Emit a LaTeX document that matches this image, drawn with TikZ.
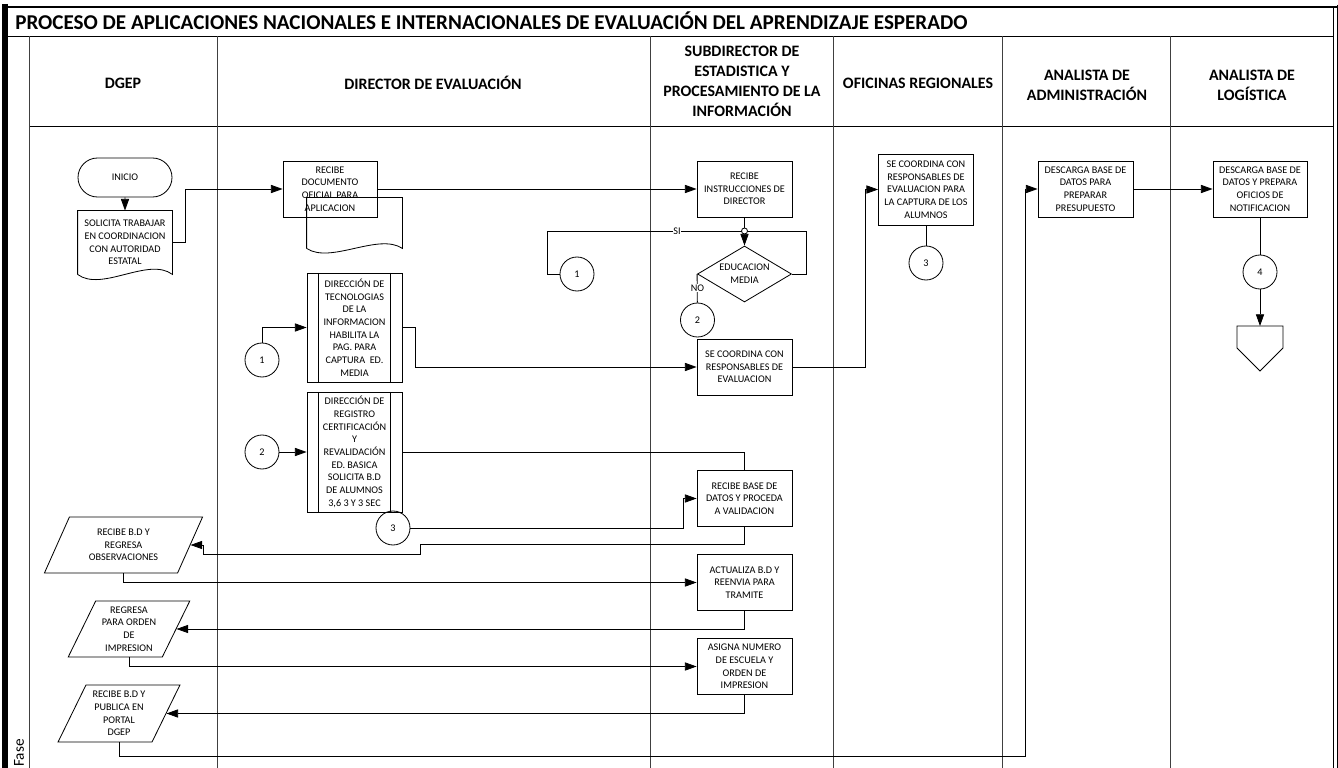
\documentclass[tikz,border=0pt]{standalone}
\usepackage{fontspec}
\setmainfont{Carlito}
\usetikzlibrary{
    arrows.meta,
    shapes.geometric,
    shapes.misc,
    calc
}

\begin{document}
\begin{tikzpicture}[x=0.03cm, y=-0.03cm, line width=0.7pt,
        >={Triangle[length=10pt,width=7pt]},
        txt/.style={font=\fontsize{8.7}{10.8}\selectfont, align=center, inner sep=0pt},
        box/.style={txt, draw, rectangle, minimum width=95*0.03cm, minimum height=56*0.03cm},
        pp/.style={box, path picture={
            \draw ([xshift=11*0.03cm]path picture bounding box.north west) -- ([xshift=11*0.03cm]path picture bounding box.south west)
                  ([xshift=-12*0.03cm]path picture bounding box.north east) -- ([xshift=-12*0.03cm]path picture bounding box.south east);}},
        io/.style={txt, draw, trapezium, trapezium left angle=63.4, trapezium right angle=116.6,
            trapezium stretches=true, minimum height=56*0.03cm},
        dec/.style={txt, draw, diamond, aspect=1.68, minimum width=94*0.03cm, minimum height=56*0.03cm},
        con/.style={txt, draw, circle, minimum size=34*0.03cm},
        term/.style={txt, draw, rounded rectangle, minimum width=94*0.03cm, minimum height=39*0.03cm},
        hdr/.style={font=\bfseries\fontsize{13.6}{17}\selectfont, align=center},
        lane/.style={draw=black!75, line width=0.8pt}]
    \useasboundingbox (0,0) rectangle (1338,768);

    % marco y carriles
    \draw[line width=1.8pt] (3,7) -- (1337,7);
    \draw[line width=5pt] (5,4) -- (5,768);
    \draw[line width=0.8pt] (7,36) -- (1333,36) (29,126) -- (1333,126);
    \draw[line width=0.8pt] (1333,7) -- (1333,768) (1337,5) -- (1337,768);
    \draw[lane]
        (29,36) -- (29,768)
        (217,36) -- (217,768)
        (650,36) -- (650,768)
        (833,36) -- (833,768)
        (1002,36) -- (1002,768)
        (1170,36) -- (1170,768);

    \node[anchor=west, font=\bfseries\fontsize{18}{20}\selectfont] (ttl) at (11,21)
        {PROCESO DE APLICACIONES NACIONALES E INTERNACIONALES DE EVALUACIÓN DEL APRENDIZAJE ESPERADO};
    \node[hdr] (hdgep) at (123,83) {DGEP};
    \node[hdr] (hdir) at (433,83) {DIRECTOR DE EVALUACIÓN};
    \node[hdr] (hsub) at (742,81) {SUBDIRECTOR DE\\ESTADISTICA Y\\PROCESAMIENTO DE LA\\INFORMACIÓN};
    \node[hdr] (hofi) at (918,83) {OFICINAS REGIONALES};
    \node[hdr] (hadm) at (1087,85) {ANALISTA DE\\ADMINISTRACIÓN};
    \node[hdr] (hlog) at (1252,85) {ANALISTA DE\\LOGÍSTICA};
    \node[rotate=90, font=\fontsize{13}{15}\selectfont] (fase) at (19,753) {Fase};

    % DGEP
    \node[term] (ini) at (125,177.5) {INICIO};
    \node[txt, minimum width=94*0.03cm, minimum height=63*0.03cm] (sol) at (125,242.5)
        {SOLICITA TRABAJAR\\EN COORDINACION\\CON AUTORIDAD\\ESTATAL};
    \node[io, minimum width=159*0.03cm] (par1) at (123.5,545) {RECIBE B.D Y\\REGRESA\\OBSERVACIONES};
    \node[io, minimum width=122*0.03cm] (par2) at (129,629) {REGRESA\\PARA ORDEN\\DE\\IMPRESION};
    \node[io, minimum width=122*0.03cm, minimum height=57*0.03cm] (par3) at (119,713.5)
        {RECIBE B.D Y\\PUBLICA EN\\PORTAL\\DGEP};

    % director de evaluacion
    \node[txt, minimum width=95*0.03cm, minimum height=50*0.03cm] (rdb) at (354.5,223) {};
    \node[box, minimum width=94*0.03cm] (rdo) at (330,189) {RECIBE\\DOCUMENTO\\OFICIAL PARA\\APLICACION};
    \node[pp, minimum height=109*0.03cm] (dti) at (354.5,327.5)
        {DIRECCIÓN DE\\TECNOLOGIAS\\DE LA\\INFORMACION\\HABILITA LA\\PAG. PARA\\CAPTURA\ \ ED.\\MEDIA};
    \node[pp, minimum height=120*0.03cm] (drc) at (354.5,452)
        {DIRECCIÓN DE\\REGISTRO\\CERTIFICACIÓN\\Y\\REVALIDACIÓN\\ED. BASICA\\SOLICITA B.D\\DE ALUMNOS\\3,6 3 Y 3 SEC};
    \node[con] (c1b) at (262,360) {1};
    \node[con] (c2b) at (262,452) {2};
    \node[con] (c3b) at (393,528) {3};
    \node[con] (c1a) at (577,274) {1};

    % subdirector
    \node[box] (rin) at (744.5,189) {RECIBE\\INSTRUCCIONES DE\\DIRECTOR};
    \node[dec] (dec) at (744.5,274) {EDUCACION\\MEDIA};
    \node[con] (c2a) at (697.5,320) {2};
    \node[box] (sec) at (744.5,367) {SE COORDINA CON\\RESPONSABLES DE\\EVALUACION};
    \node[box] (rbd) at (744.5,498.5) {RECIBE BASE DE\\DATOS Y PROCEDA\\A VALIDACION};
    \node[box] (act) at (744.5,582.5) {ACTUALIZA B.D Y\\REENVIA PARA\\TRAMITE};
    \node[box] (asg) at (744.5,666.5) {ASIGNA NUMERO\\DE ESCUELA Y\\ORDEN DE\\IMPRESION};

    % oficinas y analistas
    \node[box, minimum height=71*0.03cm] (ofi) at (926,189.5)
        {SE COORDINA CON\\RESPONSABLES DE\\EVALUACION PARA\\LA CAPTURA DE LOS\\ALUMNOS};
    \node[con] (c3a) at (926,263) {3};
    \node[box] (adm) at (1085.5,189) {DESCARGA BASE DE\\DATOS PARA\\PREPARAR\\PRESUPUESTO};
    \node[box, minimum width=94*0.03cm] (log) at (1260,189) {DESCARGA BASE DE\\DATOS Y PREPARA\\OFICIOS DE\\NOTIFICACION};
    \node[con] (c4) at (1260,272) {4};
    \coordinate (off) at (1260,326);
    \coordinate (sik) at (547,231);
    \coordinate (vup) at (1025,756);

    % documentos y conector fuera de pagina
    \draw (sol.south west) -- (sol.north west) -- (sol.north east) -- (sol.south east)
        .. controls +(-24,-18) and +(24,18) .. (sol.south west);
    \draw (rdb.south west) -- (rdb.north west) -- (rdb.north east) -- (rdb.south east)
        .. controls +(-24,-16) and +(24,16) .. (rdb.south west);
    \draw (off) -- ++(23,0) -- ++(0,22) -- ++(-23,23) -- ++(-23,-23) -- ++(0,-22) -- cycle;

    \draw
    (ini) edge[->] (sol)
    (rdo) edge[->] (rin)
    (rin) edge[->] (dec)
    (c2b) edge[->] (drc)
    (adm) edge[->] (log)
    (dec.west) edge (c2a)
    (ofi) edge (c3a)
    (log) edge (c4)
    (c4) edge[->] (off);

    \draw[->] (sol.east) -- ++(13,0) |- (rdo.west);
    \draw[->] (c1b.north) |- (dti.west);
    \draw[->] (dti.east) -- ++(13,0) |- (sec.west);
    \draw[->] (sec.east) -- ++(73,0) |- (ofi.west);
    \draw (dec.east) -- ++(14,0) |- (sik) |- (c1a.west);
    \draw (drc.east) -| (rbd.north);
    \draw[->] (c3b.east) -- ++(273,0) |- (rbd.west);
    \draw[->] (rbd.south) -- ++(0,17) -- ++(-324,0) -- ++(0,10) -- ++(-217,0) |- (par1.east);
    \draw[->] (par1.south) |- (act.west);
    \draw[->] (act.south) |- (par2.east);
    \draw[->] (par2.south) |- (asg.west);
    \draw[->] (asg.south) |- (par3.east);
    \draw[->] (par3.south) |- (vup) |- (adm.west);

    \node[draw, circle, fill=white, inner sep=0pt, minimum size=6*0.03cm] (jn) at (744.5,231) {};
    \node[txt, fill=white, inner sep=0.5pt] (si) at (677,231) {SI};
    \node[txt, fill=white, inner sep=0.5pt] (no) at (697.5,288) {NO};
\end{tikzpicture}
\end{document}
